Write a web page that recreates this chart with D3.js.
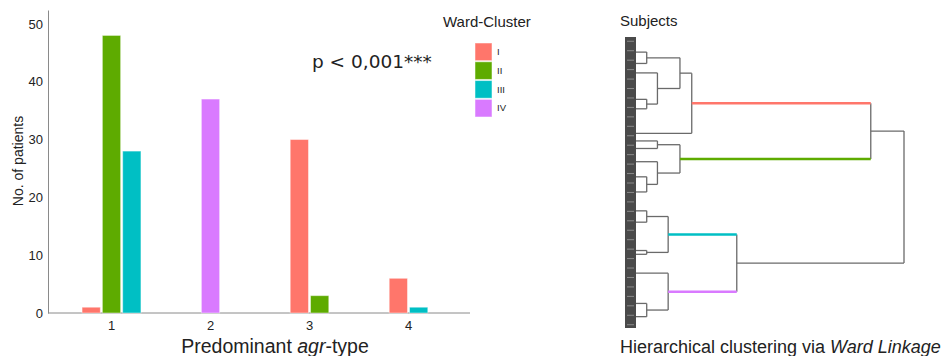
<!DOCTYPE html>
<html>
<head>
<meta charset="utf-8">
<script src="https://cdn.jsdelivr.net/npm/d3@7"></script>
<style>
  body { margin: 0; background: #fff; }
  text { font-family: "Liberation Sans", Arial, sans-serif; fill: #222; }
</style>
</head>
<body>
<script>
// bar chart data
var categories = [1, 2, 3, 4];
var clusters = ["I", "II", "III", "IV"];
var clusterI   = [1, 0, 30, 6];
var clusterII  = [48, 0, 3, 0];
var clusterIII = [28, 0, 0, 1];
var clusterIV  = [0, 37, 0, 0];
var yTicks = [0, 10, 20, 30, 40, 50];

// dendrogram data: leaf positions in subject order, merges [a, b, height]
var nSubjects = 154;
var leafPos = [8, 14, 19, 33, 38, 51, 55, 59, 66, 74, 82, 92, 98, 113, 115, 125, 141, 148];
var merges = [
	[0, 1, 1.0],    // 18
	[3, 4, 1.0],    // 19
	[2, 19, 2.0],   // 20
	[18, 20, 4.1],  // 21
	[21, 5, 5.2],   // 22  cluster I
	[6, 7, 2.0],    // 23
	[9, 10, 1.0],   // 24
	[8, 24, 2.0],   // 25
	[23, 25, 4.1],  // 26  cluster II
	[11, 12, 1.0],  // 27
	[13, 14, 1.0],  // 28
	[27, 28, 3.0],  // 29  cluster III
	[16, 17, 1.0],  // 30
	[15, 30, 3.0],  // 31  cluster IV
	[22, 26, 21.9], // 32
	[29, 31, 9.4],  // 33
	[32, 33, 25.0]  // 34  root
];
var clusterNodes = [22, 26, 29, 31];

var seriesValues = [clusterI, clusterII, clusterIII, clusterIV];

var color = d3.scaleOrdinal()
	.domain(clusters)
	.range(["#ff766b", "#5eab00", "#00bfc4", "#d97aff"]);

var svg = d3.select("body").append("svg")
	.attr("width", 948)
	.attr("height", 356);

// ===== bar chart =====
var y = d3.scaleLinear().domain([0, 52.4]).range([313, 10]);
var x = d3.scaleBand().domain(categories).range([62, 458]);
var subStep = 20.3;

var g = svg.append("g");

g.append("g")
	.attr("class", "y axis")
	.attr("transform", "translate(48,0)")
	.call(d3.axisLeft(y).tickValues(yTicks).tickSize(0).tickSizeOuter(0).tickPadding(5))
	.call(function (a) {
		a.select(".domain").attr("stroke", "#8a8a8a");
		a.selectAll("text").style("font-size", "13px").attr("fill", "#222")
			.style("font-family", "'Liberation Sans', Arial, sans-serif");
	});

g.append("line")
	.attr("x1", 48).attr("x2", 470)
	.attr("y1", y(0)).attr("y2", y(0))
	.attr("stroke", "#8a8a8a");

g.append("g")
	.attr("class", "x axis")
	.attr("transform", "translate(0," + y(0) + ")")
	.call(d3.axisBottom(x).tickSize(0).tickPadding(8))
	.call(function (a) {
		a.select(".domain").remove();
		a.selectAll("text").style("font-size", "13px").attr("fill", "#222")
			.style("font-family", "'Liberation Sans', Arial, sans-serif");
	});

// bars: only present series, centered on category
var bars = [];
categories.forEach(function (c, ci) {
	var present = clusters.filter(function (k, ki) { return seriesValues[ki][ci] > 0; });
	var cx = x(c) + x.bandwidth() / 2;
	var inner = d3.scaleBand()
		.domain(present)
		.range([cx - present.length * subStep / 2, cx + present.length * subStep / 2])
		.paddingInner(0.1).paddingOuter(0.05);
	present.forEach(function (k) {
		bars.push({ cat: c, cluster: k, value: seriesValues[clusters.indexOf(k)][ci],
			x: inner(k), w: inner.bandwidth() });
	});
});

g.selectAll(".bar")
	.data(bars)
	.enter().append("rect")
	.attr("class", "bar")
	.attr("x", function (d) { return d.x; })
	.attr("y", function (d) { return y(d.value); })
	.attr("width", function (d) { return d.w; })
	.attr("height", function (d) { return y(0) - y(d.value); })
	.attr("fill", function (d) { return color(d.cluster); })
	.attr("stroke", "rgba(255,255,255,0.45)")
	.attr("stroke-width", 1);

g.append("text")
	.attr("transform", "translate(23,161) rotate(-90)")
	.attr("text-anchor", "middle")
	.style("font-size", "14px")
	.text("No. of patients");

var xt = g.append("text")
	.attr("x", 275).attr("y", 353)
	.attr("text-anchor", "middle")
	.style("font-size", "19.5px");
xt.append("tspan").text("Predominant ");
xt.append("tspan").style("font-style", "italic").text("agr");
xt.append("tspan").text("-type");

g.append("text")
	.attr("x", 312).attr("y", 68)
	.style("font-family", "'DejaVu Sans', sans-serif")
	.style("font-size", "18.5px")
	.text("p < 0,001***");

// legend
var lg = svg.append("g");
lg.append("text")
	.attr("x", 443).attr("y", 27)
	.style("font-size", "15px")
	.text("Ward-Cluster");

var ly = d3.scaleBand().domain(clusters).range([43, 117]).paddingInner(0.06);
lg.selectAll(".sw")
	.data(clusters)
	.enter().append("rect")
	.attr("x", 475)
	.attr("y", function (d) { return ly(d); })
	.attr("width", 17)
	.attr("height", ly.bandwidth())
	.attr("fill", function (d) { return color(d); })
	.attr("stroke", "rgba(255,255,255,0.5)");
lg.selectAll(".lt")
	.data(clusters)
	.enter().append("text")
	.attr("x", 497)
	.attr("y", function (d) { return ly(d) + ly.bandwidth() / 2; })
	.attr("dy", "0.35em")
	.style("font-size", "9.5px")
	.attr("fill", "#666")
	.text(function (d) { return d; });

// ===== dendrogram =====
var ys = d3.scaleLinear().domain([0, nSubjects]).range([37, 328]);
var hx = d3.scaleLinear().domain([0, 25]).range([636, 904]);

var dg = svg.append("g");

dg.append("text")
	.attr("x", 620).attr("y", 26)
	.style("font-size", "15px")
	.text("Subjects");

// subject strip
dg.append("rect")
	.attr("x", 625).attr("y", ys(0))
	.attr("width", 11).attr("height", ys(nSubjects) - ys(0))
	.attr("fill", "#4a4a4a");
dg.selectAll(".subj")
	.data(d3.range(nSubjects).filter(function (d) { return d % 5 === 2; }))
	.enter().append("line")
	.attr("x1", 627).attr("x2", 634)
	.attr("y1", function (d) { return ys(d) + 0.5; })
	.attr("y2", function (d) { return ys(d) + 0.5; })
	.attr("stroke", "#9a9a9a")
	.attr("stroke-width", 0.8);

var nodes = leafPos.map(function (p) { return { y: ys(p), h: 0 }; });
merges.forEach(function (m) {
	nodes.push({ a: m[0], b: m[1], h: m[2], y: (nodes[m[0]].y + nodes[m[1]].y) / 2 });
});

var links = [];
nodes.forEach(function (n, i) {
	if (n.a === undefined) return;
	[n.a, n.b].forEach(function (c) {
		var ci = clusterNodes.indexOf(c);
		links.push({ x1: hx(nodes[c].h), x2: hx(n.h), y1: nodes[c].y, y2: nodes[c].y,
			cluster: ci >= 0 ? clusters[ci] : null });
	});
	links.push({ x1: hx(n.h), x2: hx(n.h), y1: nodes[n.a].y, y2: nodes[n.b].y, cluster: null });
});

dg.selectAll(".lnk")
	.data(links.filter(function (d) { return !d.cluster; }))
	.enter().append("line")
	.attr("x1", function (d) { return d.x1; })
	.attr("x2", function (d) { return d.x2; })
	.attr("y1", function (d) { return d.y1; })
	.attr("y2", function (d) { return d.y2; })
	.attr("stroke", "#6a6a6a")
	.attr("stroke-width", 1.3);

dg.selectAll(".clnk")
	.data(links.filter(function (d) { return d.cluster; }))
	.enter().append("line")
	.attr("x1", function (d) { return d.x1; })
	.attr("x2", function (d) { return d.x2; })
	.attr("y1", function (d) { return d.y1; })
	.attr("y2", function (d) { return d.y2; })
	.attr("stroke", function (d) { return color(d.cluster); })
	.attr("stroke-width", 2.5);

var dt = dg.append("text")
	.attr("x", 620).attr("y", 353)
	.style("font-size", "18px");
dt.append("tspan").text("Hierarchical clustering via ");
dt.append("tspan").style("font-style", "italic").text("Ward Linkage");
</script>
</body>
</html>
